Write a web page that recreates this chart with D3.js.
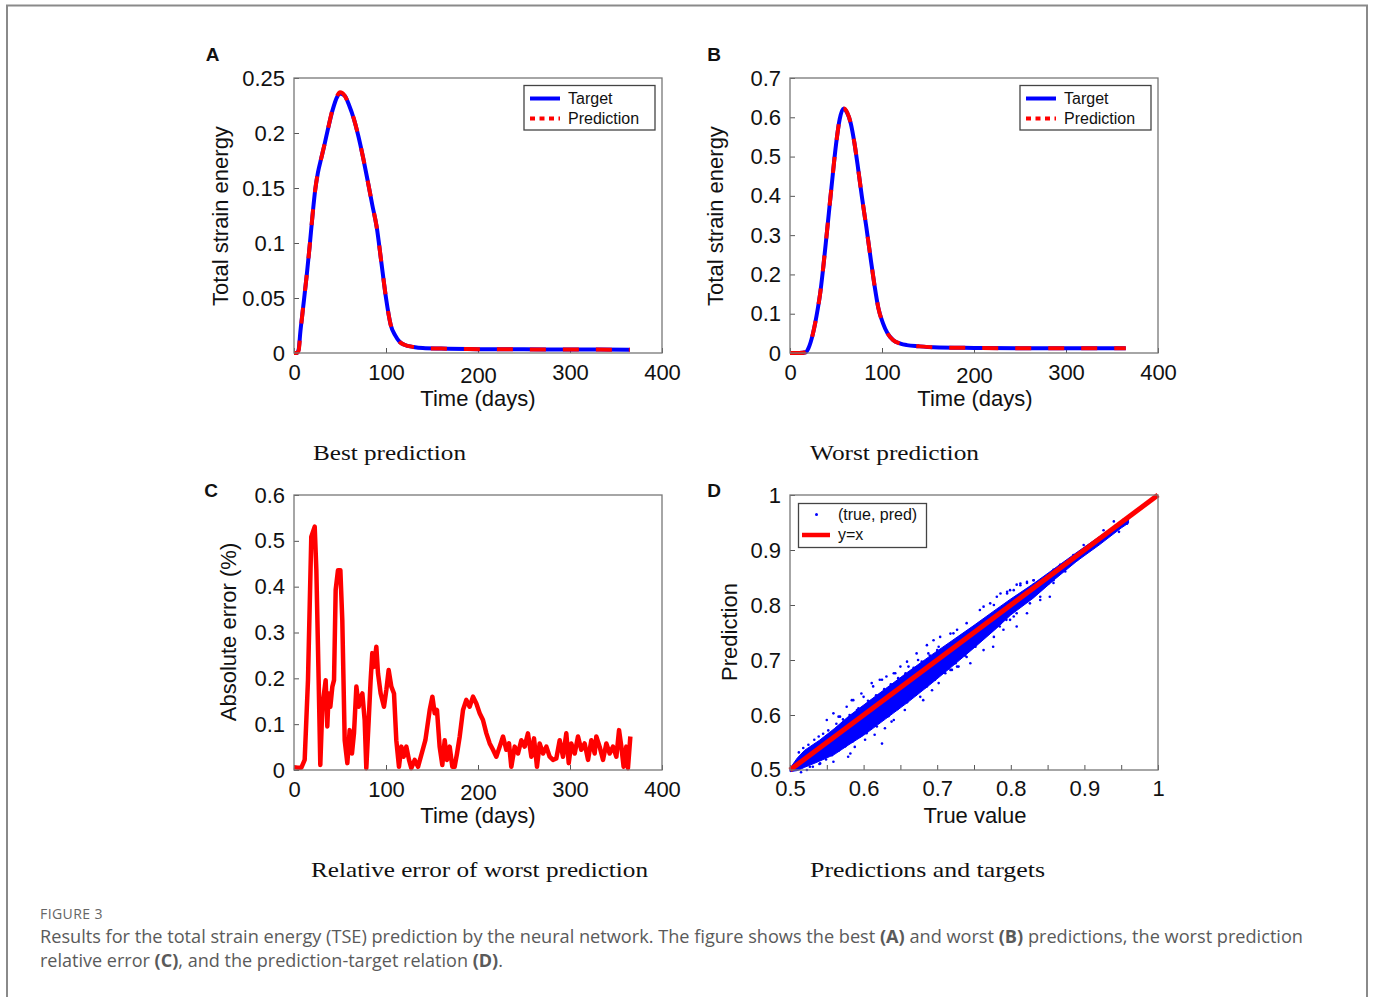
<!DOCTYPE html>
<html><head><meta charset="utf-8">
<script src="https://cdn.jsdelivr.net/npm/d3@7"></script>
<style>
html,body{margin:0;padding:0;background:#fff;}
svg{display:block;}
</style></head>
<body>
<svg id="fig" width="1375" height="997"></svg>
<script>
// ---------------- DATA ----------------
// Panel A: best prediction (Time in days, total strain energy)
const bestTime   = [0,3,5,7,10,14,17,20,23,26,29,33,37,42,47,50,55,60,65,70,75,80,85,90,95,100,105,110,115,120,130,140,160,200,250,300,365];
const bestTarget = [0,0,0.003,0.02,0.042,0.072,0.097,0.124,0.148,0.164,0.175,0.189,0.204,0.221,0.233,0.236,0.234,0.225,0.213,0.197,0.178,0.157,0.135,0.114,0.082,0.05,0.026,0.016,0.01,0.0075,0.0055,0.0045,0.004,0.0035,0.0033,0.0032,0.003];
const bestPred   = [0,0,0.002,0.019,0.042,0.072,0.097,0.124,0.148,0.164,0.175,0.189,0.204,0.222,0.234,0.237,0.234,0.225,0.213,0.197,0.178,0.157,0.135,0.114,0.082,0.05,0.026,0.016,0.01,0.0075,0.0055,0.0045,0.004,0.0035,0.0033,0.0032,0.003];

// Panel B: worst prediction
const worstTime   = [0,10,17,20,25,30,33,36,40,45,50,54,58,62,66,70,74,78,83,88,92,96,101,106,112,120,127,140,156,200,250,300,365];
const worstTarget = [0,0,0.002,0.012,0.05,0.11,0.155,0.215,0.305,0.42,0.53,0.595,0.622,0.612,0.585,0.535,0.47,0.4,0.32,0.235,0.17,0.115,0.076,0.05,0.033,0.024,0.02,0.017,0.0145,0.013,0.012,0.012,0.012];
const worstPred   = [0,0,0.002,0.012,0.05,0.11,0.155,0.215,0.305,0.42,0.53,0.596,0.623,0.613,0.585,0.535,0.47,0.4,0.32,0.235,0.17,0.115,0.076,0.05,0.033,0.024,0.02,0.017,0.0145,0.013,0.012,0.012,0.012];

// Panel C: absolute error (%) of worst prediction
const errTime = [0,4,8,11.6,15.2,18.8,22.5,24.3,26.8,28.6,30.8,32.6,34.4,36.2,37.7,39.5,41.7,43.5,45.3,47.8,50.4,52.5,55.1,58,60.5,63,65.2,67.8,70.3,72.5,74.3,76.8,78.6,81.2,83.3,85.1,86.9,89.5,91.3,94.2,97.8,100.4,102.9,105.8,108.7,111.2,114.1,116.7,119.2,122.1,125,127.5,131.2,134.8,138.4,142.8,147.5,150.4,152.9,155.4,158.3,161.2,163.8,166.3,169.2,172.1,174.6,177.2,180.1,183.7,187.3,190.9,194.6,198.2,201.8,205.4,209.1,212.7,216.3,219.9,223.6,227.2,230.8,233.7,236.2,239.9,243.5,247.1,250.7,254.3,258,260.9,264.1,267,270.7,274.3,277.9,281.5,285.1,288.8,292.4,296,298.6,301.4,305.1,308.7,312.3,315.9,319.6,323.2,326.8,328.6,332.2,335.9,339.5,343.1,346.7,350.4,353.3,355.8,358.3,361.2,363,365.6];
const errValue = [0.006,0.005,0.005,0.022,0.196,0.509,0.531,0.436,0.196,0.011,0.138,0.167,0.196,0.095,0.167,0.138,0.182,0.196,0.393,0.436,0.436,0.327,0.065,0.015,0.087,0.036,0.08,0.182,0.138,0.16,0.167,0.109,0.004,0.109,0.196,0.255,0.225,0.269,0.211,0.167,0.138,0.175,0.218,0.182,0.167,0.065,0.007,0.051,0.029,0.051,0.022,0.004,0.022,0.007,0.033,0.065,0.131,0.16,0.124,0.131,0.051,0.011,0.065,0.022,0.051,0.007,0.007,0.036,0.073,0.131,0.153,0.138,0.16,0.145,0.124,0.109,0.08,0.058,0.044,0.029,0.051,0.073,0.044,0.058,0.007,0.051,0.036,0.065,0.051,0.08,0.029,0.069,0.007,0.058,0.036,0.051,0.029,0.022,0.025,0.065,0.029,0.08,0.015,0.058,0.036,0.073,0.044,0.058,0.022,0.065,0.036,0.073,0.051,0.022,0.058,0.036,0.051,0.029,0.087,0.051,0.007,0.051,0.004,0.073];

// Panel D: dense (true, pred) cloud envelope and scattered points
const bandTrue  = [0.5,0.51,0.52,0.54,0.56,0.58,0.60,0.63,0.66,0.69,0.72,0.75,0.78,0.80,0.83,0.86,0.89,0.92,0.95,0.96];
const bandUpper = [0.503,0.522,0.536,0.554,0.575,0.598,0.618,0.648,0.678,0.707,0.735,0.763,0.792,0.811,0.838,0.867,0.896,0.924,0.952,0.958];
const bandLower = [0.497,0.499,0.505,0.516,0.528,0.546,0.563,0.593,0.623,0.655,0.688,0.722,0.757,0.782,0.812,0.847,0.880,0.909,0.940,0.949];
const ptTrue = [0.539,0.550,0.559,0.568,0.577,0.586,0.591,0.600,0.613,0.622,0.631,0.641,0.650,0.659,0.672,0.686,0.695,0.704,0.718,0.727,0.763,0.777,0.786,0.804,0.813,0.822,0.831,0.858,0.867,0.885,0.899,0.926,0.940,0.953,
  0.527,0.541,0.559,0.582,0.595,0.604,0.618,0.625,0.631,0.641,0.650,0.656,0.668,0.677,0.686,0.695,0.704,0.713,0.722,0.731,0.740,0.749,0.758,0.767,0.772,0.777,0.786,0.790,0.799,0.808,0.826,0.840,0.854,0.872,0.890,0.903,0.922,0.947,0.958,
  0.638,0.629,0.615,0.602,0.588,0.579,0.681,0.693,0.702,0.711,0.720,0.729,0.566,0.584,0.597,0.611,0.625,0.643,0.661,0.674,0.688,0.702,
  0.722,0.740,0.758,0.772,0.781,0.795,0.808,0.822,0.831,0.758,0.763,0.776,0.785,0.794,0.804,0.808,0.822,0.840,0.853,0.858,0.740,0.745,0.727,0.718,
  0.948,0.957,0.939,0.930,0.898,0.894,0.881,0.874,0.865,0.858,0.851,0.840,0.831,0.813,0.799,0.795,
  0.512,0.518,0.525,0.533,0.545,0.552,0.563,0.572,0.581,0.593,0.606,0.617,0.628,0.637,0.647,0.657,0.668,0.679,0.690,0.700,
  0.515,0.523,0.531,0.540,0.549,0.557,0.566,0.575,0.585,0.597,0.609,0.620,0.634,0.646,0.659,0.671,0.684,0.697,0.710,0.725,0.738,0.752];
const ptPred = [0.561,0.591,0.603,0.597,0.615,0.627,0.609,0.633,0.652,0.664,0.670,0.676,0.688,0.697,0.712,0.727,0.736,0.742,0.748,0.755,0.797,0.800,0.821,0.827,0.839,0.842,0.845,0.864,0.873,0.891,0.909,0.936,0.952,0.955,
  0.506,0.512,0.515,0.530,0.561,0.567,0.579,0.548,0.603,0.591,0.627,0.609,0.639,0.633,0.652,0.670,0.676,0.688,0.700,0.706,0.718,0.736,0.748,0.761,0.773,0.742,0.767,0.755,0.773,0.785,0.803,0.815,0.852,0.864,0.882,0.906,0.918,0.933,0.948,
  0.588,0.576,0.564,0.555,0.542,0.524,0.627,0.645,0.658,0.676,0.682,0.688,0.597,0.627,0.639,0.658,0.664,0.676,0.688,0.700,0.712,0.724,
  0.7485,0.767,0.791,0.803,0.815,0.821,0.837,0.840,0.837,0.736,0.718,0.724,0.761,0.773,0.779,0.761,0.785,0.809,0.815,0.840,0.7055,0.694,0.688,0.682,
  0.948,0.9485,0.933,0.924,0.894,0.888,0.876,0.861,0.858,0.845,0.839,0.836,0.845,0.836,0.827,0.824,
  0.532,0.540,0.546,0.555,0.566,0.572,0.584,0.592,0.600,0.612,0.626,0.636,0.647,0.656,0.667,0.676,0.686,0.697,0.708,0.718,
  0.496,0.500,0.506,0.511,0.519,0.527,0.535,0.543,0.552,0.563,0.575,0.586,0.598,0.611,0.623,0.637,0.651,0.664,0.679,0.694,0.708,0.724];
const identityLine = [0.5, 1];

// Tick values and labels
const timeTicks = [0,100,200,300,400];
const bestTicks = [0,0.05,0.1,0.15,0.2,0.25];
const worstTicks = [0,0.1,0.2,0.3,0.4,0.5,0.6,0.7];
const errTicks = [0,0.1,0.2,0.3,0.4,0.5,0.6];
const dTicks = [0.5,0.6,0.7,0.8,0.9,1];
const dMinorTicks = [0.5,0.55,0.6,0.65,0.7,0.75,0.8,0.85,0.9,0.95,1];

const legendSeries = ["Target","Prediction"];
const legendD = ["(true, pred)","y=x"];
const panelTitles = ["Best prediction","Worst prediction","Relative error of worst prediction","Predictions and targets"];
const captionHead = "FIGURE 3";

// ---------------- DRAWING ----------------
const svg = d3.select("#fig");
const SANS = "'Liberation Sans', Arial, sans-serif";
const SERIF = "'Liberation Serif', 'DejaVu Serif', serif";

// outer frame
svg.append("path").attr("d","M7,1000 L7,5.5 L1367,5.5 L1367,1000")
  .attr("fill","none").attr("stroke","#8a8a8a").attr("stroke-width",2);

const boxes = {
  A:{x0:294,x1:662,y0:78,y1:353},
  B:{x0:790,x1:1158,y0:78,y1:353},
  C:{x0:294,x1:662,y0:495,y1:770},
  D:{x0:790,x1:1158,y0:495,y1:770}
};

function makeAxes(b, xDom, yDom, xTicks, yTicks, opt={}) {
  const x = d3.scaleLinear().domain(xDom).range([b.x0,b.x1]);
  const y = d3.scaleLinear().domain(yDom).range([b.y1,b.y0]);
  const g = svg.append("g");
  const fmt = d => String(d);
  const xa = g.append("g").attr("transform",`translate(0,${b.y1})`)
    .call(d3.axisBottom(x).tickValues(opt.xMinor||xTicks).tickSize(-5).tickPadding(opt.xPad||11.5)
      .tickFormat(d => xTicks.some(t=>Math.abs(t-d)<1e-9) ? fmt(d) : ""));
  const ya = g.append("g").attr("transform",`translate(${b.x0},0)`)
    .call(d3.axisLeft(y).tickValues(yTicks).tickSize(-5).tickPadding(9).tickFormat(fmt));
  [xa,ya].forEach(a=>{
    a.select(".domain").remove();
    a.selectAll("line").attr("stroke","#555").attr("stroke-width",1);
    a.selectAll("text").attr("font-family",SANS).attr("font-size",22).attr("fill","#111");
  });
  if (opt.shift200) xa.selectAll(".tick text").filter(d=>d===200).attr("dy","0.85em");
  return {x,y,g};
}

function drawBox(b){
  svg.append("rect").attr("x",b.x0).attr("y",b.y0).attr("width",b.x1-b.x0).attr("height",b.y1-b.y0)
    .attr("fill","none").attr("stroke","#777").attr("stroke-width",1.3);
}

function label(text,x,y,size,opts={}){
  const t = svg.append("text").attr("x",x).attr("y",y).text(text)
    .attr("font-family",opts.family||SANS).attr("font-size",size).attr("fill",opts.fill||"#111")
    .attr("text-anchor",opts.anchor||"middle");
  if(opts.weight) t.attr("font-weight",opts.weight);
  if(opts.rotate) t.attr("transform",`rotate(-90,${x},${y})`);
  if(opts.len) t.attr("textLength",opts.len).attr("lengthAdjust","spacingAndGlyphs");
  return t;
}

// ---- Panel A & B ----
function curvePanel(b, times, tgt, pred, yTicks, yMax, legX){
  const {x,y} = makeAxes(b,[0,400],[0,yMax],timeTicks,yTicks,{shift200:true});
  const line = d3.line().x((d,i)=>x(times[i])).y(d=>y(d)).curve(d3.curveMonotoneX);
  svg.append("path").attr("d",line(tgt)).attr("fill","none").attr("stroke","#0000ff").attr("stroke-width",4);
  svg.append("path").attr("d",line(pred)).attr("fill","none").attr("stroke","#ff0000").attr("stroke-width",4)
    .attr("stroke-dasharray","16,17");
  drawBox(b);
  // legend
  const lg = svg.append("g");
  lg.append("rect").attr("x",legX).attr("y",85.5).attr("width",131).attr("height",44.5)
    .attr("fill","#fff").attr("stroke","#444").attr("stroke-width",1.3);
  legendSeries.forEach((s,i)=>{
    const yy = 98.5 + i*20;
    lg.append("line").attr("x1",legX+6).attr("x2",legX+36).attr("y1",yy).attr("y2",yy)
      .attr("stroke", i===0?"#0000ff":"#ff0000").attr("stroke-width",4)
      .attr("stroke-dasharray", i===0?null:"5,4.5");
    lg.append("text").attr("x",legX+44).attr("y",yy+5.5).text(s)
      .attr("font-family",SANS).attr("font-size",16).attr("fill","#111");
  });
}
curvePanel(boxes.A,bestTime,bestTarget,bestPred,bestTicks,0.25,524);
curvePanel(boxes.B,worstTime,worstTarget,worstPred,worstTicks,0.7,1020);

// ---- Panel C ----
{
  const b = boxes.C;
  const {x,y} = makeAxes(b,[0,400],[0,0.6],timeTicks,errTicks,{shift200:true});
  const line = d3.line().x((d,i)=>x(errTime[i])).y(d=>y(d));
  svg.append("path").attr("d",line(errValue)).attr("fill","none").attr("stroke","#ff0000")
    .attr("stroke-width",4.5).attr("stroke-linejoin","round");
  drawBox(b);
}

// ---- Panel D ----
{
  const b = boxes.D;
  const {x,y} = makeAxes(b,[0.5,1],[0.5,1],dTicks,dTicks.slice(1),{xMinor:dMinorTicks, xPad:10});
  svg.append("text").attr("x",b.x0-9).attr("y",y(0.5)).attr("dy","0.32em").attr("text-anchor","end")
    .text("0.5").attr("font-family",SANS).attr("font-size",22).attr("fill","#111");
  const area = d3.area().x((d,i)=>x(bandTrue[i])).y0((d,i)=>y(bandLower[i])).y1(d=>y(d)).curve(d3.curveLinear);
  svg.append("path").attr("d",area(bandUpper)).attr("fill","#0000ff").attr("stroke","#0000ff").attr("stroke-width",1);
  svg.append("g").selectAll("circle").data(ptTrue).join("circle")
    .attr("cx",d=>x(d)).attr("cy",(d,i)=>y(ptPred[i])).attr("r",1.3).attr("fill","#0000ff");
  svg.append("line").attr("x1",x(identityLine[0])).attr("y1",y(identityLine[0]))
    .attr("x2",x(identityLine[1])).attr("y2",y(identityLine[1]))
    .attr("stroke","#ff0000").attr("stroke-width",5);
  drawBox(b);
  const lg = svg.append("g");
  lg.append("rect").attr("x",798.5).attr("y",503.5).attr("width",128).attr("height",44)
    .attr("fill","#fff").attr("stroke","#444").attr("stroke-width",1.3);
  lg.append("circle").attr("cx",816.5).attr("cy",514.5).attr("r",1.5).attr("fill","#0000ff");
  lg.append("line").attr("x1",802).attr("x2",830).attr("y1",535).attr("y2",535).attr("stroke","#ff0000").attr("stroke-width",4.5);
  legendD.forEach((s,i)=>{
    lg.append("text").attr("x",838).attr("y",520+i*20).text(s)
      .attr("font-family",SANS).attr("font-size",16).attr("fill","#111");
  });
}

// axis labels
label("Total strain energy",227.5,216,22,{rotate:true});
label("Total strain energy",723,216,22,{rotate:true});
label("Absolute error (%)",236,632,22,{rotate:true});
label("Prediction",736.5,632,22,{rotate:true});
label("Time (days)",478,406,22);
label("Time (days)",975,406,22);
label("Time (days)",478,822.5,22);
label("True value",975,823,22);

// panel letters
label("A",212.5,61,19,{weight:"bold"});
label("B",714,61,19,{weight:"bold"});
label("C",211,497,19,{weight:"bold"});
label("D",714,497,19,{weight:"bold"});

// panel titles (serif)
label(panelTitles[0],389.5,460,22,{family:SERIF,len:153});
label(panelTitles[1],894.5,460,22,{family:SERIF,len:169});
label(panelTitles[2],479.5,877,22,{family:SERIF,len:337});
label(panelTitles[3],927.5,877,22,{family:SERIF,len:235});

// caption
const CAP = "'Open Sans', 'Noto Sans', sans-serif";
svg.append("text").attr("x",40).attr("y",919).text(captionHead)
  .attr("font-family",CAP).attr("font-size",14).attr("fill","#666").attr("letter-spacing",0.4)
  .attr("textLength",63).attr("lengthAdjust","spacingAndGlyphs");
function capLine(parts,y,len){
  const t = svg.append("text").attr("x",40).attr("y",y).attr("font-family",CAP).attr("font-size",17.5).attr("fill","#5a5a5a")
    .attr("textLength",len).attr("lengthAdjust","spacingAndGlyphs");
  parts.forEach(p=>{ const s=t.append("tspan").text(p[0]); if(p[1]) s.attr("font-weight","bold"); });
}
capLine([["Results for the total strain energy (TSE) prediction by the neural network. The figure shows the best "],["(A)",1],[" and worst "],["(B)",1],[" predictions, the worst prediction"]],943,1263);
capLine([["relative error "],["(C)",1],[", and the prediction-target relation "],["(D)",1],["."]],967,463);
</script>
</body></html>
